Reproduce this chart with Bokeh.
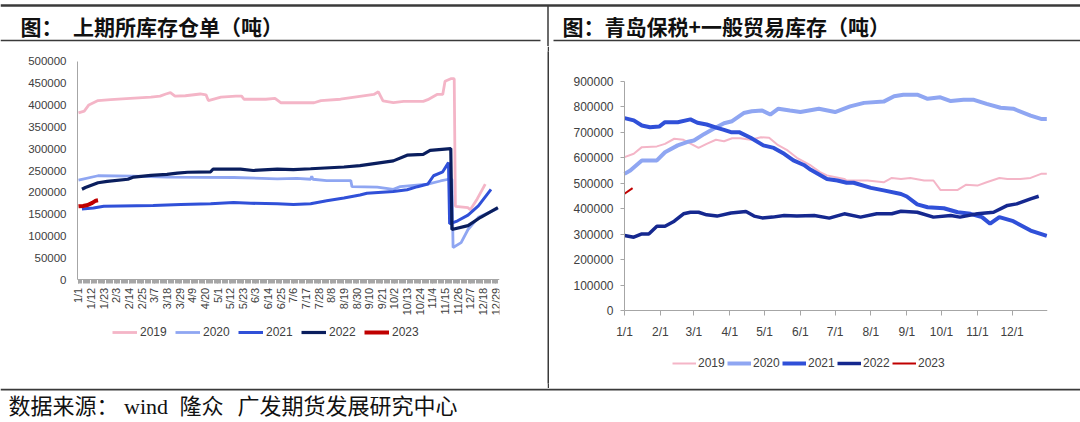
import numpy as np
from bokeh.plotting import figure
from bokeh.layouts import column, row
from bokeh.models import Range1d, FixedTicker, Legend, LegendItem, BasicTickFormatter
from bokeh.embed import file_html
from bokeh.resources import INLINE
from bokeh.core.properties import value

# ---------------- data: left chart (SHFE warrants, tonnes) ----------------
left_tick_labels = ["1/1", "1/12", "1/23", "2/3", "2/14", "2/25", "3/7", "3/18", "3/29", "4/9",
                    "4/20", "5/1", "5/12", "5/23", "6/3", "6/14", "6/25", "7/6", "7/17", "7/28",
                    "8/8", "8/19", "8/30", "9/10", "9/21", "10/2", "10/13", "10/24", "11/4", "11/15",
                    "11/26", "12/7", "12/18", "12/29"]

shfe_2019_day = [0, 5, 9, 17, 28, 45, 63, 71, 76, 80, 84, 93, 106, 111, 113, 124, 137, 142, 144, 163,
                 171, 176, 205, 211, 228, 257, 261, 265, 274, 283, 300, 304, 312, 317, 319, 324, 327, 328,
                 339, 341, 347, 354]
shfe_2019_val = [382, 386, 400, 410, 412, 415, 418, 420, 425, 428, 420, 421, 425, 423, 410, 418, 420, 420,
                 413, 413, 415, 405, 405, 410, 413, 424, 430, 409, 405, 408, 408, 412, 424, 424, 454, 460,
                 460, 168, 165, 160, 185, 219]

shfe_2020_day = [0, 17, 48, 77, 135, 173, 190, 202, 203, 204, 216, 237, 238, 260, 274, 280, 304, 315, 322,
                 325, 326, 333, 339, 348, 365]
shfe_2020_val = [228, 238, 237, 235, 234, 231, 232, 230, 237, 230, 227, 227, 213, 212, 207, 213, 219, 226,
                 230, 230, 74, 85, 115, 143, 163]

shfe_2021_day = [3, 13, 22, 65, 89, 115, 135, 150, 173, 187, 202, 216, 231, 245, 251, 274, 286, 295, 304,
                 309, 317, 322, 323, 330, 339, 348, 359]
shfe_2021_val = [162, 164, 168, 170, 172, 174, 177, 175, 174, 172, 174, 181, 187, 194, 198, 202, 206, 213,
                 219, 238, 247, 268, 128, 135, 148, 169, 207]

shfe_2022_day = [3, 6, 17, 25, 43, 48, 63, 77, 86, 95, 115, 117, 141, 152, 173, 187, 202, 231, 245, 274,
                 286, 300, 306, 324, 325, 339, 350, 365]
shfe_2022_val = [207, 211, 222, 225, 230, 235, 239, 241, 244, 246, 247, 253, 253, 250, 253, 252, 254, 258,
                 261, 272, 285, 287, 296, 300, 115, 124, 143, 165]

shfe_2023_day = [0, 4, 8, 12, 15, 17]
shfe_2023_val = [168, 169, 171, 176, 181, 182]

# ---------------- data: right chart (Qingdao inventory, tonnes) ----------------
right_tick_labels = ["1/1", "2/1", "3/1", "4/1", "5/1", "6/1", "7/1", "8/1", "9/1", "10/1", "11/1", "12/1"]
right_tick_days = [0, 31, 60, 91, 121, 152, 182, 213, 244, 274, 305, 335]

qd_2019_day = [0, 8, 15, 28, 35, 43, 51, 64, 71, 79, 86, 93, 100, 109, 118, 125, 132, 141, 149, 161,
               169, 175, 190, 192, 210, 224, 231, 239, 247, 259, 267, 273, 288, 295, 305, 313, 324, 331,
               342, 351, 360, 365]
qd_2019_val = [603, 616, 642, 645, 655, 675, 671, 639, 655, 671, 665, 677, 677, 671, 681, 679, 652, 629,
               600, 570, 544, 531, 517, 511, 511, 504, 521, 517, 521, 511, 511, 474, 474, 494, 491, 504,
               521, 517, 517, 521, 537, 537]

qd_2020_day = [0, 5, 15, 28, 35, 46, 54, 60, 69, 77, 86, 93, 103, 110, 119, 126, 133, 143, 152, 168,
               182, 195, 207, 224, 233, 241, 253, 262, 273, 282, 293, 302, 313, 325, 336, 351, 360, 365]
qd_2020_val = [537, 550, 590, 590, 622, 649, 662, 668, 694, 714, 736, 744, 776, 783, 786, 770, 793, 786,
               780, 793, 780, 802, 816, 821, 842, 848, 848, 832, 838, 823, 828, 828, 812, 797, 793, 766,
               753, 753]

qd_2021_day = [0, 8, 15, 22, 30, 35, 46, 57, 63, 71, 80, 86, 92, 99, 109, 120, 129, 138, 146, 155,
               161, 175, 184, 192, 198, 213, 224, 239, 244, 253, 262, 276, 288, 299, 309, 316, 324, 336,
               351, 365]
qd_2021_val = [756, 747, 727, 720, 723, 740, 740, 751, 738, 731, 718, 710, 701, 701, 679, 649, 639, 616,
               590, 572, 553, 517, 511, 502, 502, 482, 472, 458, 448, 417, 406, 402, 386, 380, 367, 341,
               367, 351, 314, 293]

qd_2022_day = [0, 8, 15, 21, 28, 35, 43, 51, 57, 64, 71, 80, 92, 105, 112, 119, 128, 138, 149, 164,
               177, 190, 204, 218, 231, 239, 253, 267, 282, 290, 305, 319, 331, 339, 351, 358]
qd_2022_val = [295, 288, 301, 301, 331, 331, 351, 380, 386, 386, 376, 371, 383, 389, 371, 364, 367, 373,
               371, 373, 363, 380, 367, 380, 380, 390, 386, 367, 373, 367, 380, 386, 413, 419, 439, 449]

qd_2023_day = [0, 7]
qd_2023_val = [459, 481]

years = ["2019", "2020", "2021", "2022", "2023"]

# ---------------- styles ----------------
NUM_FONT = "Liberation Sans"
CJK_FONT = "Noto Sans CJK SC"
AXIS_GREY = "#A6A6A6"
LABEL_COL = "#404040"
FRAME_COL = "#3A3A3A"

C_PINK = "#F4B5C7"
C_LBLUE = "#8FA6F2"
C_BLUE = "#3050D8"
C_NAVY_L = "#0A1E5E"
C_NAVY_R = "#15288F"
C_RED = "#C00000"


def k(vals):
    return [v * 1000 for v in vals]


def base_fig(w, h, **kw):
    p = figure(width=w, height=h, output_backend="svg", toolbar_location=None, **kw)
    p.background_fill_color = "white"
    p.border_fill_color = "white"
    p.outline_line_color = None
    p.xgrid.visible = False
    p.ygrid.visible = False
    return p


def style_legend(leg, glyph_w, label_w, standoff, size):
    leg.border_line_color = None
    leg.background_fill_alpha = 0
    leg.padding = 0
    leg.margin = 0
    leg.spacing = 1
    leg.glyph_width = glyph_w
    leg.glyph_height = 14
    leg.label_height = 14
    leg.label_width = label_w
    leg.label_standoff = standoff
    leg.label_text_font = NUM_FONT
    leg.label_text_font_size = size
    leg.label_text_color = LABEL_COL


W = 1080
# ---------------- header (page y 0..46) ----------------
HH = 46
hdr = base_fig(W, HH, x_range=Range1d(0, W), y_range=Range1d(0, HH),
               x_axis_type=None, y_axis_type=None, min_border=0)
hdr.segment(x0=[0], y0=[41], x1=[W], y1=[41], line_color=FRAME_COL, line_width=2.5)
hdr.segment(x0=[0, 553], y0=[6, 6], x1=[540, W], y1=[6, 6], line_color=FRAME_COL, line_width=1.5)
hdr.segment(x0=[547.5], y0=[0], x1=[547.5], y1=[41], line_color=FRAME_COL, line_width=1.5)
hdr.text(x=[20, 562], y=[21, 21],
         text=["图：\u2002上期所库存仓单（吨）", "图：青岛保税+一般贸易库存（吨）"],
         text_font=value(CJK_FONT), text_font_size="21px", text_font_style="bold",
         text_color="#111111", text_align="left", text_baseline="middle")

# ---------------- middle row (page y 46..388) ----------------
CH = 342
TOPB, BOTB = 5, 5
FR_TOP, FR_BOT = 46 + TOPB, 46 + CH - BOTB   # page y of frame edges (51, 383)

# ---- left chart: y=500000 at page 60.7, y=0 at page 279.3; day 0 at page 78, 1.149 px/day
LW = 547
L_FR_LEFT = 5                      # page x of frame left
L_AX_X = 77.0                      # page x of the y axis
L_DAY_PX = 1.149
L_AX_DAY = 0 - (78 - L_AX_X) / L_DAY_PX
L_Y0, L_Y1 = 279.3, 60.7
l_per_px = 500000 / (L_Y0 - L_Y1)
left = base_fig(LW, CH,
                x_range=Range1d(L_AX_DAY - (L_AX_X - L_FR_LEFT) / L_DAY_PX, 366.4),
                y_range=Range1d(-(FR_BOT - L_Y0) * l_per_px, 500000 + (L_Y1 - FR_TOP) * l_per_px),
                min_border_left=L_FR_LEFT, min_border_right=48, min_border_top=TOPB, min_border_bottom=BOTB)
lr19 = left.line(shfe_2019_day, k(shfe_2019_val), line_color=C_PINK, line_width=2.8)
lr20 = left.line(shfe_2020_day, k(shfe_2020_val), line_color=C_LBLUE, line_width=2.8)
lr21 = left.line(shfe_2021_day, k(shfe_2021_val), line_color=C_BLUE, line_width=3)
lr22 = left.line(shfe_2022_day, k(shfe_2022_val), line_color=C_NAVY_L, line_width=3.2)
lr23 = left.line(shfe_2023_day, k(shfe_2023_val), line_color=C_RED, line_width=4)

left_ticks = list(range(0, 364, 11))
left.xaxis.fixed_location = 0
left.xaxis.bounds = (L_AX_DAY, 366.4)
left.xaxis.ticker = FixedTicker(ticks=left_ticks, minor_ticks=list(range(0, 366)))
left.xaxis.major_label_overrides = {t: lab for t, lab in zip(left_ticks, left_tick_labels)}
left.xaxis.major_label_orientation = np.pi / 2
left.xaxis.axis_line_color = AXIS_GREY
left.xaxis.major_tick_line_color = AXIS_GREY
left.xaxis.minor_tick_line_color = AXIS_GREY
left.xaxis.major_tick_in = 0
left.xaxis.major_tick_out = 4
left.xaxis.minor_tick_in = 0
left.xaxis.minor_tick_out = 4
left.xaxis.major_label_standoff = 4
left.xaxis.major_label_text_font = NUM_FONT
left.xaxis.major_label_text_font_size = "11px"
left.xaxis.major_label_text_color = LABEL_COL

left.yaxis.fixed_location = L_AX_DAY
left.yaxis.bounds = (0, 500000)
left.yaxis.ticker = FixedTicker(ticks=list(range(0, 500001, 50000)))
left.yaxis.formatter = BasicTickFormatter(use_scientific=False)
left.yaxis.axis_line_color = AXIS_GREY
left.yaxis.major_tick_line_color = None
left.yaxis.minor_tick_line_color = None
left.yaxis.major_tick_out = 0
left.yaxis.major_label_standoff = 11
left.yaxis.major_label_text_font = NUM_FONT
left.yaxis.major_label_text_font_size = "11.5px"
left.yaxis.major_label_text_color = LABEL_COL

lleg = Legend(items=[LegendItem(label=y, renderers=[r]) for y, r in zip(years, [lr19, lr20, lr21, lr22, lr23])],
              location=(112 - L_FR_LEFT, FR_BOT - 339), orientation="horizontal")
style_legend(lleg, 25, 34, 3, "12px")
left.add_layout(lleg)

# divider
div = base_fig(2, CH, x_range=Range1d(0, 1), y_range=Range1d(0, 1),
               x_axis_type=None, y_axis_type=None, min_border=0)
div.background_fill_color = FRAME_COL
div.border_fill_color = FRAME_COL

# ---- right chart: y=900000 at page 81, y=0 at page 310; day 0 at page 624, 1.157 px/day
RW = W - LW - 2
R_ORIGIN = LW + 2                  # page x of right figure
R_FR_LEFT = 555                    # page x of frame left
R_AX_X = 624.0
R_DAY_PX = 1.157
R_Y0, R_Y1 = 310.0, 81.0
r_per_px = 900000 / (R_Y0 - R_Y1)
right = base_fig(RW, CH,
                 x_range=Range1d(-(R_AX_X - R_FR_LEFT) / R_DAY_PX, 365.6),
                 y_range=Range1d(-(FR_BOT - R_Y0) * r_per_px, 900000 + (R_Y1 - FR_TOP) * r_per_px),
                 min_border_left=R_FR_LEFT - R_ORIGIN, min_border_right=33,
                 min_border_top=TOPB, min_border_bottom=BOTB)
rr19 = right.line(qd_2019_day, k(qd_2019_val), line_color=C_PINK, line_width=2)
rr20 = right.line(qd_2020_day, k(qd_2020_val), line_color=C_LBLUE, line_width=4)
rr21 = right.line(qd_2021_day, k(qd_2021_val), line_color=C_BLUE, line_width=4)
rr22 = right.line(qd_2022_day, k(qd_2022_val), line_color=C_NAVY_R, line_width=3.5)
rr23 = right.line(qd_2023_day, k(qd_2023_val), line_color=C_RED, line_width=2)

right.xaxis.fixed_location = 0
right.xaxis.bounds = (0, 365.6)
right.xaxis.ticker = FixedTicker(ticks=right_tick_days)
right.xaxis.major_label_overrides = {t: lab for t, lab in zip(right_tick_days, right_tick_labels)}
right.xaxis.axis_line_color = AXIS_GREY
right.xaxis.major_tick_line_color = AXIS_GREY
right.xaxis.minor_tick_line_color = None
right.xaxis.major_tick_in = 0
right.xaxis.major_tick_out = 5
right.xaxis.major_label_standoff = 9
right.xaxis.major_label_text_font = NUM_FONT
right.xaxis.major_label_text_font_size = "12px"
right.xaxis.major_label_text_color = LABEL_COL

right.yaxis.fixed_location = 0
right.yaxis.bounds = (0, 900000)
right.yaxis.ticker = FixedTicker(ticks=list(range(0, 900001, 100000)))
right.yaxis.formatter = BasicTickFormatter(use_scientific=False)
right.yaxis.axis_line_color = AXIS_GREY
right.yaxis.major_tick_line_color = AXIS_GREY
right.yaxis.minor_tick_line_color = None
right.yaxis.major_tick_in = 0
right.yaxis.major_tick_out = 4
right.yaxis.major_label_standoff = 7
right.yaxis.major_label_text_font = NUM_FONT
right.yaxis.major_label_text_font_size = "12px"
right.yaxis.major_label_text_color = LABEL_COL

rleg = Legend(items=[LegendItem(label=y, renderers=[r]) for y, r in zip(years, [rr19, rr20, rr21, rr22, rr23])],
              location=(672 - R_FR_LEFT, FR_BOT - 370), orientation="horizontal")
style_legend(rleg, 24, 28, 2, "12px")
right.add_layout(rleg)

# ---------------- footer (page y 388..422) ----------------
FH = 34
ftr = base_fig(W, FH, x_range=Range1d(0, W), y_range=Range1d(0, FH),
               x_axis_type=None, y_axis_type=None, min_border=0)
ftr.segment(x0=[0], y0=[33], x1=[W], y1=[33], line_color=FRAME_COL, line_width=2)
ftr.text(x=[8, 179, 237], y=[16, 16, 16],
         text=["数据来源： wind", "隆众", "广发期货发展研究中心"],
         text_font=value("Liberation Serif, Noto Sans CJK SC"), text_font_size="22px",
         text_color="#111111", text_align="left", text_baseline="middle")

layout = column(hdr, row(left, div, right, spacing=0), ftr, spacing=0)
open("out.html", "w").write(file_html(layout, INLINE))
